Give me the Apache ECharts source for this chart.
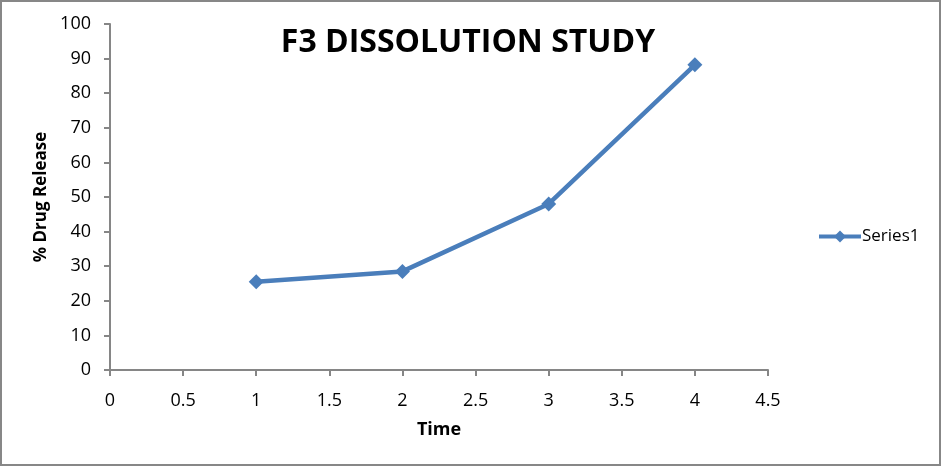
<!DOCTYPE html>
<html><head><meta charset="utf-8">
<script src="https://cdn.jsdelivr.net/npm/echarts@6/dist/echarts.min.js"></script>
<style>html,body{margin:0;padding:0;background:#fff}#c{width:942px;height:467px}</style>
</head><body><div id="c"></div>
<script>
var seriesName = 'Series1';
var timeValues = [1, 2, 3, 4];
var drugRelease = [25.5, 28.5, 48, 88.2];
var titleText = 'F3 DISSOLUTION STUDY';
var xName = 'Time';
var yName = '% Drug Release';

var font = 'Open Sans, Liberation Sans, sans-serif';
var chart = echarts.init(document.getElementById('c'));
chart.setOption({
  animation: false,
  backgroundColor: '#fff',
  graphic: [{type:'rect', shape:{x:1,y:1,width:939,height:464}, style:{fill:'none', stroke:'#878787', lineWidth:2}, silent:true}],
  title: {text: titleText, left: 463, top: 22, textAlign: 'center',
    textStyle: {fontFamily: font, fontSize: 32, fontWeight: 'bold', color: '#000'}},
  legend: {left: 812, top: 223, itemWidth: 42, itemHeight: 15, itemGap: 0,
    data: [seriesName],
    lineStyle: {width: 4},
    textStyle: {fontFamily: font, fontSize: 17, color: '#000', padding:[0,0,0,-4]}},
  grid: {left: 110, right: 174, top: 24, bottom: 97},
  xAxis: {type: 'value', min: 0, max: 4.5, interval: 0.5,
    name: xName, nameLocation: 'middle', nameGap: 51,
    nameTextStyle: {fontFamily: font, fontSize: 18, fontWeight: 'bold', color: '#000'},
    axisLine: {show: true, onZero: false, lineStyle: {color: '#868686', width: 2}},
    axisTick: {show: true, length: 6, lineStyle: {color: '#868686', width: 2}},
    axisLabel: {fontFamily: font, fontSize: 18, color: '#000', margin: 22},
    splitLine: {show: false}},
  yAxis: {type: 'value', min: 0, max: 100, interval: 10,
    name: yName, nameLocation: 'middle', nameGap: 58, nameRotate: 90,
    nameTextStyle: {fontFamily: font, fontSize: 17, fontWeight: 'bold', color: '#000'},
    axisLine: {show: true, lineStyle: {color: '#868686', width: 2}},
    axisTick: {show: true, length: 6, lineStyle: {color: '#868686', width: 2}},
    axisLabel: {fontFamily: font, fontSize: 18, color: '#000', margin: 19},
    splitLine: {show: false}},
  series: [{name: seriesName, type: 'line',
    data: timeValues.map(function(t, i){ return [t, drugRelease[i]]; }),
    symbol: 'diamond', symbolSize: 15,
    lineStyle: {color: '#4A7EBB', width: 4.5},
    itemStyle: {color: '#4A7EBB'}}]
});
</script></body></html>
